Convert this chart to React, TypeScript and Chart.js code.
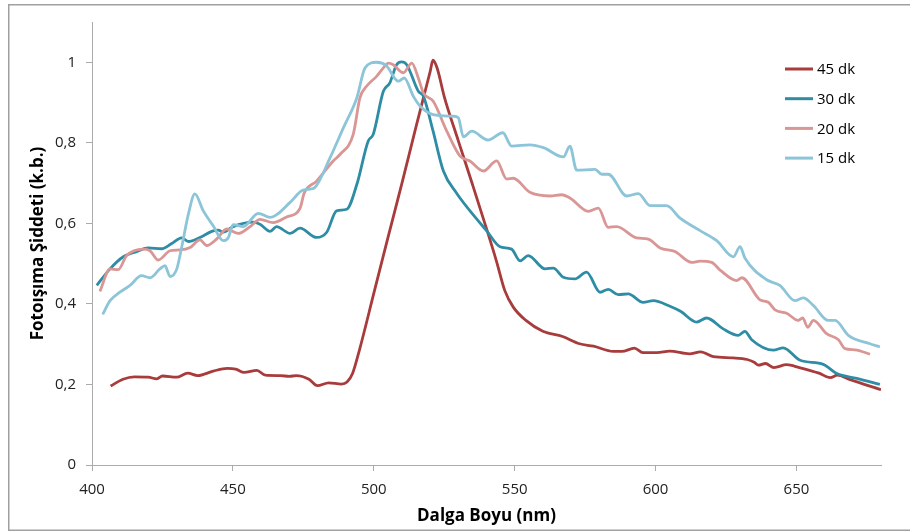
import React, { useEffect, useRef } from "react";
import { Chart, registerables } from "chart.js";

Chart.register(...registerables);

const seriesLabels = ["45 dk", "30 dk", "20 dk", "15 dk"];
const seriesColors = ["#A83B3B", "#2E8DA5", "#D99694", "#8CC4D8"];

const xTickValues = [400, 450, 500, 550, 600, 650];
const yTickValues = [0, 0.2, 0.4, 0.6, 0.8, 1];

const series45: [number, number][] = [
  [406.6, 0.196], [411, 0.213], [415, 0.219], [420, 0.218], [423, 0.214], [425, 0.221],
  [430, 0.218], [434, 0.228], [437.5, 0.222], [443, 0.233], [448, 0.24], [451, 0.238],
  [454, 0.23], [458.5, 0.235], [461.5, 0.223], [467, 0.222], [470, 0.22], [472.5, 0.222],
  [477, 0.213], [480, 0.197], [484, 0.204], [488.5, 0.201], [490.5, 0.206], [492.5, 0.228],
  [495, 0.288], [500, 0.426], [505, 0.564], [510, 0.7], [515, 0.84], [518, 0.922],
  [520, 0.977], [521, 1.005], [522.5, 0.985], [525, 0.915], [530, 0.805], [535, 0.697],
  [540, 0.587], [543.5, 0.507], [546.5, 0.433], [549.5, 0.392], [554, 0.359], [560, 0.332],
  [567, 0.319], [573, 0.301], [578, 0.295], [585, 0.282], [588, 0.282], [592.5, 0.29],
  [595.5, 0.279], [600.5, 0.279], [605, 0.283], [612, 0.276], [616, 0.281], [620.5, 0.269],
  [627.5, 0.266], [632.5, 0.262], [635, 0.255], [636.5, 0.248], [639, 0.252], [642, 0.242],
  [646.5, 0.249], [651, 0.242], [658, 0.228], [662, 0.217], [664.5, 0.223], [669, 0.212],
  [680, 0.187],
];

const series30: [number, number][] = [
  [401.7, 0.446], [406.4, 0.487], [411.1, 0.517], [415.9, 0.53], [420, 0.539], [424.7, 0.537],
  [428.3, 0.55], [431.8, 0.564], [434.2, 0.555], [438.3, 0.565], [442.5, 0.58], [444.8, 0.583],
  [446.6, 0.578], [450.1, 0.592], [457.2, 0.603], [459.6, 0.598], [463.2, 0.58], [465.5, 0.592],
  [470.3, 0.575], [473.8, 0.588], [479.7, 0.565], [483.3, 0.578], [486.8, 0.631], [490.4, 0.635],
  [494, 0.697], [498, 0.804], [499.8, 0.821], [503.4, 0.928], [505.7, 0.949], [508.1, 0.994],
  [509.9, 1.001], [511.7, 0.994], [515.8, 0.928], [517.6, 0.916], [521, 0.83], [524.7, 0.73],
  [529.4, 0.675], [536.5, 0.611], [540, 0.582], [544.8, 0.542], [548.9, 0.536], [551.9, 0.507],
  [554.8, 0.52], [560.8, 0.487], [563.7, 0.489], [567.3, 0.466], [571.4, 0.462], [575.5, 0.479],
  [580.3, 0.429], [583.2, 0.436], [586.8, 0.423], [590.3, 0.425], [595.6, 0.404], [599.2, 0.408],
  [605.1, 0.394], [609, 0.381], [614.6, 0.355], [618.1, 0.365], [624, 0.338], [629.4, 0.322],
  [631.7, 0.332], [634.1, 0.311], [641.8, 0.285], [645.3, 0.291], [651.3, 0.26], [659.5, 0.25],
  [664.3, 0.227], [671.4, 0.215], [679.6, 0.2],
];

const series20: [number, number][] = [
  [402.8, 0.431], [406.4, 0.487], [409.3, 0.485], [412.3, 0.52], [418.2, 0.536], [420.6, 0.532],
  [423.5, 0.509], [427.7, 0.532], [431.2, 0.534], [434.8, 0.54], [438.3, 0.559], [440.7, 0.545],
  [444.2, 0.561], [447.8, 0.586], [451.9, 0.575], [456.1, 0.592], [459.6, 0.61], [464.3, 0.602],
  [469.1, 0.616], [473.8, 0.637], [475.3, 0.675], [479.7, 0.705], [485.6, 0.755], [488, 0.771],
  [492.7, 0.821], [495.1, 0.912], [497.5, 0.941], [501, 0.965], [503.4, 0.986], [505.2, 0.998],
  [506.9, 0.994], [510.5, 0.974], [513.5, 0.998], [515.8, 0.961], [517.6, 0.924], [521.1, 0.903],
  [525.9, 0.829], [530.6, 0.767], [534.1, 0.755], [538.9, 0.73], [543.6, 0.755], [547.2, 0.71],
  [549.5, 0.712], [555.4, 0.677], [562.5, 0.668], [566.7, 0.671], [569.6, 0.663], [576.1, 0.63],
  [579.7, 0.638], [583.2, 0.59], [586.2, 0.592], [593.3, 0.564], [597.4, 0.561], [601.6, 0.539],
  [606.9, 0.53], [612.8, 0.503], [615.8, 0.506], [619.9, 0.503], [622.9, 0.484], [628.8, 0.458],
  [630.6, 0.465], [637.1, 0.41], [640, 0.404], [642.4, 0.385], [646.5, 0.377], [650.6, 0.359],
  [652.2, 0.365], [654, 0.342], [656, 0.359], [660.7, 0.326], [664.9, 0.311], [667.2, 0.289],
  [670.8, 0.286], [676.1, 0.275],
];

const series15: [number, number][] = [
  [403.8, 0.374], [406.4, 0.408], [409.9, 0.429], [413.5, 0.446], [417.6, 0.47], [420.6, 0.465],
  [424.1, 0.487], [425.9, 0.495], [427.7, 0.468], [430.1, 0.487], [431.8, 0.54], [434.2, 0.623],
  [436.5, 0.673], [439.5, 0.631], [443, 0.594], [446.6, 0.557], [448.4, 0.565], [450.1, 0.597],
  [453.7, 0.592], [459, 0.625], [463.2, 0.615], [470.3, 0.652], [474.4, 0.681], [477.4, 0.685],
  [479.1, 0.689], [484.5, 0.763], [489.2, 0.837], [494, 0.912], [496.9, 0.986], [501, 1.0],
  [504.4, 0.992], [508.7, 0.953], [510.8, 0.961], [514, 0.916], [516.6, 0.89], [521.1, 0.87],
  [528.2, 0.866], [530, 0.862], [531.8, 0.815], [534.8, 0.829], [540.5, 0.807], [545.8, 0.825],
  [548.9, 0.792], [555.4, 0.795], [560.2, 0.788], [567.3, 0.765], [569.6, 0.792], [572, 0.732],
  [578.5, 0.734], [580.9, 0.722], [583.2, 0.722], [589.8, 0.668], [593.9, 0.674], [598, 0.644],
  [603.9, 0.644], [608.7, 0.613], [615.8, 0.582], [621.7, 0.557], [627.6, 0.517], [630, 0.542],
  [631.7, 0.514], [639.4, 0.46], [644.1, 0.446], [649.5, 0.408], [652.4, 0.415], [656, 0.396],
  [661.3, 0.359], [663.7, 0.359], [668.4, 0.322], [676.1, 0.301], [679.6, 0.293],
];

const allSeries = [series45, series30, series20, series15];

const FONT = "'Open Sans', sans-serif";
const AXIS_COLOR = "#ababab";

const framePlugin = {
  id: "frame",
  beforeDraw(chart: any) {
    const { ctx, width, height } = chart;
    ctx.save();
    ctx.fillStyle = "#ffffff";
    ctx.fillRect(0, 0, width, height);
    ctx.strokeStyle = "#a0a0a0";
    ctx.lineWidth = 1.5;
    ctx.strokeRect(8.75, 4.75, width + 10, 525.5);
    ctx.restore();
  },
};

const legendPlugin = {
  id: "customLegend",
  afterDraw(chart: any) {
    const { ctx, chartArea } = chart;
    ctx.save();
    const x0 = chartArea.right - 96;
    const y0 = chartArea.top + 47;
    chart.data.datasets.forEach((ds: any, i: number) => {
      const y = y0 + i * 29.7;
      ctx.strokeStyle = ds.borderColor;
      ctx.lineWidth = 3;
      ctx.beginPath();
      ctx.moveTo(x0, y);
      ctx.lineTo(x0 + 28, y);
      ctx.stroke();
      ctx.fillStyle = "#000";
      ctx.font = `15px ${FONT}`;
      ctx.textBaseline = "middle";
      ctx.textAlign = "left";
      ctx.fillText(ds.label, x0 + 32, y + 1);
    });
    ctx.restore();
  },
};

export default function App() {
  const ref = useRef<HTMLCanvasElement | null>(null);

  useEffect(() => {
    if (!ref.current) return;
    const chart = new Chart(ref.current, {
      type: "line",
      data: {
        datasets: allSeries.map((s, i) => ({
          label: seriesLabels[i],
          data: s.map(([x, y]) => ({ x, y })),
          borderColor: seriesColors[i],
          backgroundColor: seriesColors[i],
          borderWidth: 2.8,
          pointRadius: 0,
          fill: false,
          cubicInterpolationMode: "monotone" as const,
          order: allSeries.length - i,
        })),
      },
      plugins: [framePlugin, legendPlugin],
      options: {
        animation: false,
        responsive: false,
        devicePixelRatio: 1,
        layout: { padding: { top: 22, right: 29, left: 0, bottom: 0 } },
        plugins: {
          legend: { display: false },
          tooltip: { enabled: false },
        },
        scales: {
          x: {
            type: "linear",
            min: 400,
            max: 680,
            afterBuildTicks: (s: any) => {
              s.ticks = xTickValues.map((v) => ({ value: v }));
            },
            afterFit: (s: any) => {
              s.height = 67;
            },
            ticks: {
              color: "#222",
              font: { family: FONT, size: 15 },
              padding: 10,
              maxRotation: 0,
              callback: (v: any) => String(v),
            },
            grid: {
              display: true,
              drawOnChartArea: false,
              drawTicks: true,
              tickLength: 6,
              color: AXIS_COLOR,
            },
            border: { display: true, color: AXIS_COLOR, width: 1 },
            title: {
              display: true,
              text: "Dalga Boyu (nm)",
              color: "#000",
              font: { family: FONT, size: 17, weight: "bold" },
              padding: { top: 0, bottom: 6 },
            },
          },
          y: {
            type: "linear",
            min: 0,
            max: 1.1,
            afterBuildTicks: (s: any) => {
              s.ticks = yTickValues.map((v) => ({ value: v }));
            },
            afterFit: (s: any) => {
              s.width = 92;
            },
            ticks: {
              color: "#222",
              font: { family: FONT, size: 15 },
              padding: 10,
              callback: (v: any) => String(v).replace(".", ","),
            },
            grid: {
              display: true,
              drawOnChartArea: false,
              drawTicks: true,
              tickLength: 6,
              color: AXIS_COLOR,
            },
            border: { display: true, color: AXIS_COLOR, width: 1 },
            title: {
              display: true,
              text: "Fotoışıma Şiddeti (k.b.)",
              color: "#000",
              font: { family: FONT, size: 17, weight: "bold" },
              padding: { top: 28, bottom: 0 },
            },
          },
        },
      },
    });
    return () => chart.destroy();
  }, []);

  return (
    <div style={{ position: "fixed", left: 0, top: 0, width: 910, height: 532 }}>
      <canvas ref={ref} width={910} height={532} style={{ display: "block" }} />
    </div>
  );
}
